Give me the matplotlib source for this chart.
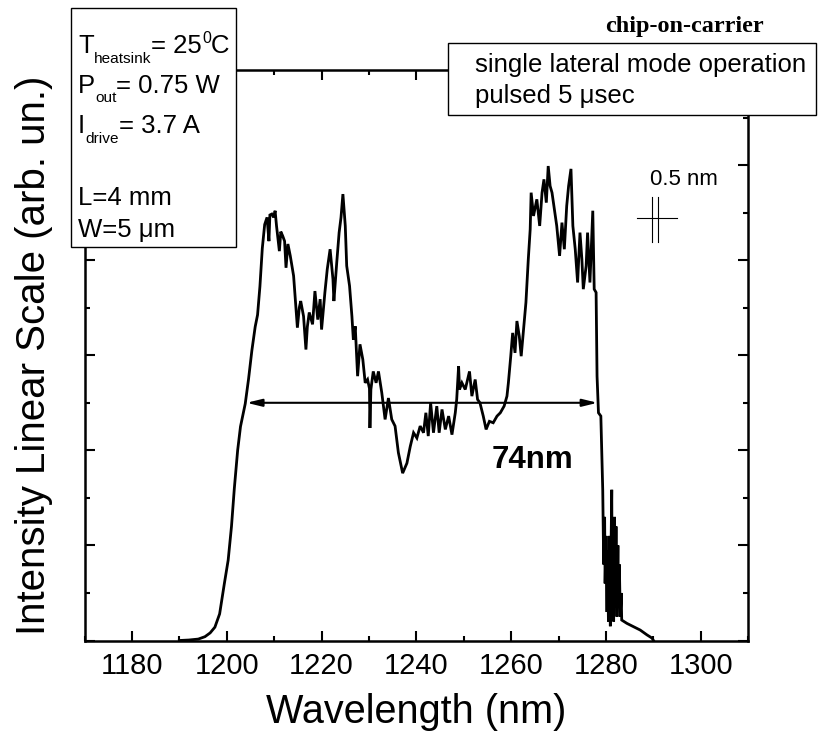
import matplotlib
matplotlib.use('Agg')
import matplotlib.pyplot as plt
from matplotlib.patches import Rectangle
from matplotlib.ticker import MultipleLocator

plt.rcParams['font.family'] = ['Liberation Sans', 'DejaVu Sans']

# spectrum (wavelength nm, intensity arb. un.)
wavelength = [
    1190.0, 1192.0, 1194.0, 1195.4, 1196.5, 1197.5, 1198.5, 1199.5, 1200.3, 1201.0,
    1201.6, 1202.3, 1202.9, 1203.9, 1204.6, 1205.3, 1206.0, 1206.5, 1207.0, 1207.5,
    1208.0, 1208.5, 1208.9, 1209.1, 1209.5, 1209.9, 1210.2, 1210.5, 1211.1, 1211.4,
    1211.8, 1212.2, 1212.5, 1212.9, 1213.4, 1214.1, 1214.6, 1214.9, 1215.3, 1215.6,
    1216.2, 1216.7, 1217.0, 1217.4, 1218.1, 1218.6, 1219.2, 1219.7, 1220.0, 1220.7,
    1221.2, 1221.8, 1222.4, 1222.6, 1223.2, 1223.7, 1224.1, 1224.5, 1225.0, 1225.3,
    1225.9, 1226.4, 1226.7, 1227.1, 1227.6, 1228.1, 1228.7, 1229.2, 1229.7, 1230.1,
    1230.2, 1230.4, 1230.9, 1231.5, 1232.0, 1232.7, 1233.4, 1234.1, 1234.8, 1235.5,
    1236.2, 1237.1, 1238.0, 1238.7, 1239.4, 1240.1, 1240.8, 1241.5, 1242.0, 1242.5,
    1243.0, 1243.6, 1244.3, 1244.8, 1245.4, 1246.1, 1246.8, 1247.5, 1248.2, 1248.5,
    1248.9, 1249.1, 1249.6, 1250.3, 1251.2, 1251.7, 1252.4, 1252.9, 1253.4, 1254.1,
    1254.7, 1255.4, 1256.2, 1257.0, 1257.7, 1258.5, 1259.1, 1259.4, 1259.9, 1260.3,
    1260.8, 1261.2, 1261.7, 1262.1, 1262.6, 1263.1, 1263.6, 1264.0, 1264.2, 1264.7,
    1265.4, 1266.0, 1266.5, 1266.9, 1267.4, 1267.8, 1268.2, 1268.6, 1269.1, 1269.6,
    1270.2, 1270.7, 1271.2, 1271.7, 1272.1, 1272.6, 1273.0, 1273.5, 1274.0, 1274.5,
    1274.9, 1275.2, 1275.8, 1276.1, 1276.6, 1277.2, 1277.5, 1277.9, 1278.1, 1278.4,
    1278.9, 1279.3, 1279.5, 1279.7, 1279.8, 1280.0, 1280.2, 1280.3, 1280.5, 1280.7,
    1280.9, 1281.0, 1281.2, 1281.3, 1281.5, 1281.6, 1281.8, 1281.9, 1282.1, 1282.3,
    1282.5, 1282.6, 1282.8, 1283.0, 1283.2, 1283.3, 1284.4, 1285.8, 1287.2, 1288.6,
    1289.7, 1290.0,
]
intensity = [
    0.0, 0.01, 0.03, 0.08, 0.16, 0.28, 0.56, 1.2, 1.69, 2.4,
    3.2, 4.0, 4.5, 4.98, 5.5, 6.1, 6.6, 6.85, 7.45, 8.25,
    8.75, 8.9, 8.4, 8.95, 8.97, 8.9, 9.04, 8.72, 8.19, 8.6,
    8.51, 8.4, 7.84, 8.34, 8.09, 7.67, 6.97, 6.58, 7.0, 7.14,
    6.82, 6.12, 6.6, 6.90, 6.65, 7.35, 6.75, 7.18, 6.54, 7.32,
    7.81, 8.23, 7.60, 7.14, 7.95, 8.58, 8.9, 9.39, 8.72, 7.88,
    7.46, 6.82, 6.33, 6.61, 5.56, 6.23, 5.91, 5.42, 5.49, 5.3,
    4.47, 5.28, 5.66, 5.42, 5.66, 5.21, 4.65, 5.10, 4.65, 4.51,
    3.95, 3.52, 3.73, 4.08, 4.37, 4.26, 4.51, 4.37, 4.79, 4.30,
    5.00, 4.37, 4.93, 4.37, 4.86, 4.44, 4.72, 4.33, 4.79, 5.07,
    5.77, 5.28, 5.42, 5.28, 5.66, 5.14, 5.49, 5.07, 5.00, 4.72,
    4.44, 4.61, 4.58, 4.72, 4.79, 4.93, 5.14, 5.42, 5.98, 6.47,
    6.05, 6.72, 6.40, 5.98, 6.54, 7.11, 8.02, 8.65, 9.42, 8.93,
    9.28, 8.72, 9.42, 9.70, 9.21, 9.98, 9.56, 9.42, 9.07, 8.72,
    8.09, 8.79, 8.23, 9.14, 9.56, 9.92, 8.72, 8.23, 7.53, 8.58,
    8.02, 7.39, 7.88, 8.58, 7.53, 9.04, 7.39, 7.32, 5.56, 4.79,
    4.72, 3.17, 1.6, 2.6, 1.2, 2.2, 0.6, 1.9, 0.4, 2.2,
    0.3, 1.5, 3.17, 0.8, 2.0, 0.4, 2.6, 0.7, 2.4, 0.5,
    2.0, 0.9, 1.6, 0.5, 1.0, 0.43, 0.36, 0.29, 0.22, 0.12,
    0.05, 0.0,
]

fwhm_left = 1204.2
fwhm_right = 1278.2
fwhm_level = 5.0
fwhm_text = '74nm'

xticks = [1180, 1200, 1220, 1240, 1260, 1280, 1300]

# text runs: (text, 'n' normal / 'sub' / 'sup')
left_lines = [
    [('T', 'n'), ('heatsink', 'sub'), ('= 25', 'n'), ('0', 'sup'), ('C', 'n')],
    [('P', 'n'), ('out', 'sub'), ('= 0.75 W', 'n')],
    [('I', 'n'), ('drive', 'sub'), ('= 3.7 A', 'n')],
    [('L=4 mm', 'n')],
    [('W=5 \u03bcm', 'n')],
]
right_lines = ['single lateral mode operation', 'pulsed 5 \u03bcsec']

W, H = 818, 741
fig = plt.figure(figsize=(W / 100, H / 100), dpi=100)
ax = fig.add_axes([84.5 / W, 1 - 640.5 / H, (748.3 - 84.5) / W, (640.5 - 70) / H])

ax.plot(wavelength, intensity, color='black', lw=2.0, solid_joinstyle='miter')

ax.set_xlim(1170, 1310)
ax.set_ylim(0, 12)
ax.set_xticks(xticks)
ax.xaxis.set_minor_locator(MultipleLocator(10))
ax.yaxis.set_major_locator(MultipleLocator(2))
ax.yaxis.set_minor_locator(MultipleLocator(1))
ax.set_yticklabels([])
ax.tick_params(which='both', direction='in', top=True, right=True, width=1.5)
ax.tick_params(which='major', length=7.2, labelsize=21, pad=8.5)
ax.tick_params(which='minor', length=3.8)
for s in ax.spines.values():
    s.set_linewidth(1.8)

ax.set_xlabel('Wavelength (nm)', fontsize=28.5, labelpad=9)
ax.set_ylabel('Intensity Linear Scale (arb. un.)', fontsize=29, labelpad=14)

# FWHM arrow
ax.annotate('', xy=(fwhm_left, fwhm_level), xytext=(fwhm_right, fwhm_level),
            arrowprops=dict(arrowstyle='<|-|>,head_length=0.9,head_width=0.22',
                            color='black', lw=1.5, shrinkA=0, shrinkB=0))
ax.text(1264.5, 3.79, fwhm_text, fontsize=22.5, fontweight='bold',
        ha='center', va='center')

# resolution marker
ax.plot([1286.5, 1294.9], [8.88, 8.88], color='black', lw=0.8)
ax.plot([1289.66, 1289.66], [8.38, 9.33], color='black', lw=0.8)
ax.plot([1290.93, 1290.93], [8.38, 9.33], color='black', lw=0.8)
ax.text(1296.5, 9.7, '0.5 nm', fontsize=16, ha='center', va='center')


def fx(px):
    return px / W


def fy(py):
    return 1 - py / H


renderer = fig.canvas.get_renderer()


def draw_runs(x, base, runs, fs):
    fs_px = fs * 100 / 72
    for txt, kind in runs:
        size, dy = fs, 0
        if kind == 'sub':
            size, dy = fs * 0.6, 0.38 * fs_px
        elif kind == 'sup':
            size, dy = fs * 0.62, -0.40 * fs_px
        t = fig.text(fx(x), fy(base + dy), txt, fontsize=size, va='baseline', zorder=6)
        x += t.get_window_extent(renderer).width


# left info box
fig.add_artist(Rectangle((fx(71), fy(246.7)), (236 - 71) / W, (246.7 - 8.3) / H,
                         transform=fig.transFigure, fc='white', ec='black',
                         lw=1.0, zorder=5))
for runs, base in zip(left_lines, [53, 92.7, 133, 205, 237]):
    draw_runs(78, base, runs, 18.5)

# right info box
fig.add_artist(Rectangle((fx(448.3), fy(115)), (816 - 448.3) / W, (115 - 43.3) / H,
                         transform=fig.transFigure, fc='white', ec='black',
                         lw=1.0, zorder=5))
for txt, base in zip(right_lines, [71.7, 103.3]):
    fig.text(fx(475), fy(base), txt, fontsize=18.5, va='baseline', zorder=6)

fig.text(fx(684), fy(31.7), 'chip-on-carrier', fontsize=17.5, fontweight='bold',
         family='Liberation Serif', ha='center', va='baseline', zorder=6)

fig.savefig('out.png', dpi=100)
